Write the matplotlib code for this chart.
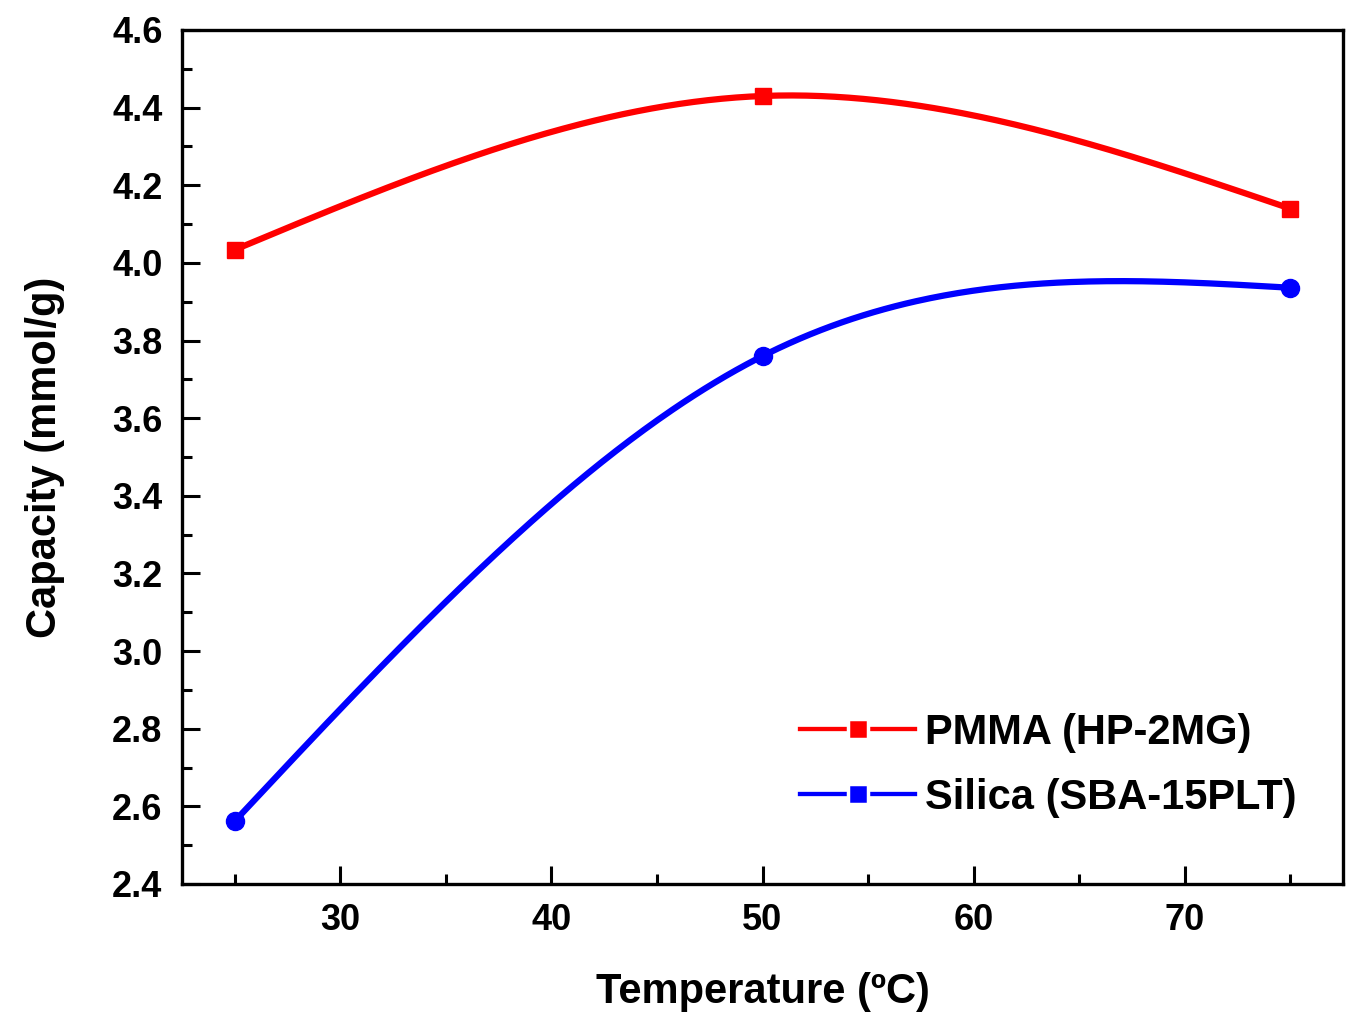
import numpy as np
import matplotlib
matplotlib.use("Agg")
import matplotlib.pyplot as plt
from matplotlib.ticker import MultipleLocator
from matplotlib.lines import Line2D

temperature = [25, 50, 75]
pmma = [4.034, 4.43, 4.14]
silica = [2.562, 3.76, 3.936]
labels = ["PMMA (HP-2MG)", "Silica (SBA-15PLT)"]


def natural_spline(x, y, n=300):
    x = np.asarray(x, float)
    y = np.asarray(y, float)
    k = len(x)
    h = np.diff(x)
    A = np.zeros((k, k))
    b = np.zeros(k)
    A[0, 0] = 1
    A[-1, -1] = 1
    for i in range(1, k - 1):
        A[i, i - 1] = h[i - 1]
        A[i, i] = 2 * (h[i - 1] + h[i])
        A[i, i + 1] = h[i]
        b[i] = 6 * ((y[i + 1] - y[i]) / h[i] - (y[i] - y[i - 1]) / h[i - 1])
    M = np.linalg.solve(A, b)
    xs = np.linspace(x[0], x[-1], n)
    ys = np.empty_like(xs)
    for j, xv in enumerate(xs):
        i = min(np.searchsorted(x, xv, side="right") - 1, k - 2)
        hi = h[i]
        t1 = x[i + 1] - xv
        t0 = xv - x[i]
        ys[j] = (M[i] * t1 ** 3 / (6 * hi) + M[i + 1] * t0 ** 3 / (6 * hi)
                 + (y[i] / hi - M[i] * hi / 6) * t1
                 + (y[i + 1] / hi - M[i + 1] * hi / 6) * t0)
    return xs, ys


plt.rcParams['font.family'] = ['Liberation Sans', 'DejaVu Sans']
plt.rcParams['font.weight'] = 'bold'

fig = plt.figure(figsize=(13.46, 10.16), dpi=100)
ax = fig.add_axes([182 / 1346, 1 - 884 / 1016, (1343 - 182) / 1346, (884 - 30) / 1016])

lw = 4.5
for ys, color, marker, ms in [(pmma, '#ff0000', 's', 11.5), (silica, '#0000ff', 'o', 13)]:
    xs_s, ys_s = natural_spline(temperature, ys)
    ax.plot(xs_s, ys_s, color=color, lw=lw, solid_capstyle='round', zorder=2)
    ax.plot(temperature, ys, linestyle='none', marker=marker, ms=ms, color=color, zorder=3)

ax.set_xlim(22.5, 77.5)
ax.set_ylim(2.4, 4.6)
ax.xaxis.set_major_locator(MultipleLocator(10))
ax.xaxis.set_minor_locator(MultipleLocator(5))
ax.yaxis.set_major_locator(MultipleLocator(0.2))
ax.yaxis.set_minor_locator(MultipleLocator(0.1))
ax.yaxis.set_major_formatter(matplotlib.ticker.FormatStrFormatter('%.1f'))
ax.tick_params(which='both', direction='in', width=2.2, labelsize=26, top=False, right=False)
ax.tick_params(which='major', length=13)
ax.tick_params(axis='x', which='major', pad=14)
ax.tick_params(axis='y', which='major', pad=14)
ax.tick_params(which='minor', length=7)
for s in ax.spines.values():
    s.set_linewidth(2.4)
for lab in ax.get_xticklabels() + ax.get_yticklabels():
    lab.set_fontweight('bold')

ax.set_xlabel('Temperature (ºC)', fontsize=30, fontweight='bold', labelpad=24)
ax.set_ylabel('Capacity (mmol/g)', fontsize=30, fontweight='bold', labelpad=34)

handles = [Line2D([], [], color='#ff0000', lw=3.1, marker='s', ms=14.8, mec='white', mew=2.5),
           Line2D([], [], color='#0000ff', lw=3.1, marker='s', ms=14.8, mec='white', mew=2.5)]
ax.legend(handles, labels, loc='center left', bbox_to_anchor=(0.532, 0.139), frameon=False,
          prop={'size': 30, 'weight': 'bold'}, handlelength=2.78, handletextpad=0.22,
          labelspacing=0.59, borderaxespad=0.0, borderpad=0.0)

fig.savefig('out.png', dpi=100)
